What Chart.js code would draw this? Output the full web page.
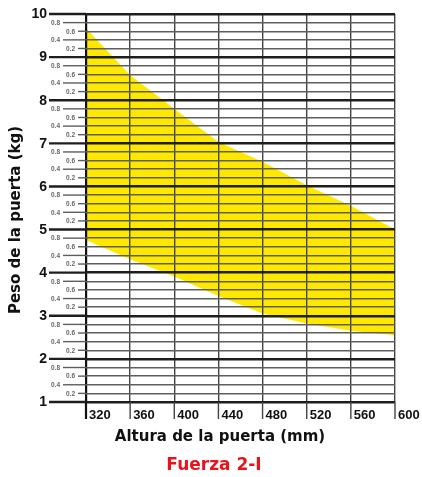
<!DOCTYPE html>
<html><head><meta charset="utf-8">
<script src="https://cdn.jsdelivr.net/npm/chart.js@4/dist/chart.umd.min.js"></script>
<style>html,body{margin:0;padding:0;background:#fff}#wrap{width:422px;height:477px;position:relative}</style>
</head><body><div id="wrap"><canvas id="c"></canvas></div>
<script>
const alturas = [320, 360, 400, 440, 480, 520, 560, 600];
const pesoMax = [9.67, 8.58, 7.8, 7.03, 6.57, 6.03, 5.55, 5.0];
const pesoMin = [4.76, 4.31, 3.91, 3.46, 3.05, 2.82, 2.65, 2.55];
const xTickLabels = ['320', '360', '400', '440', '480', '520', '560', '600'];
const yMajorLabels = ['1', '2', '3', '4', '5', '6', '7', '8', '9', '10'];
const yMinorLabels = ['0.2', '0.4', '0.6', '0.8'];
const xTitle = 'Altura de la puerta (mm)';
const yTitle = 'Peso de la puerta (kg)';
const chartTitle = 'Fuerza 2-I';

const FONT = '"Liberation Sans", Arial, sans-serif';
const TFONT = '"DejaVu Sans", "Liberation Sans", sans-serif';
const isMajor = v => Math.abs(v - Math.round(v)) < 1e-6;
const yGridColor = v => isMajor(v) ? '#1e1e1e' : '#5e5e5e';
const yGridWidth = v => isMajor(v) ? 2.4 : 1.4;
const xGridColor = v => v === 320 ? '#111' : '#444';
const xGridWidth = v => v === 320 ? 2.2 : 1.4;

const decor = {
  id: 'decor',
  afterDraw(chart) {
    const ctx = chart.ctx, ca = chart.chartArea;
    const xs = chart.scales.x, ys = chart.scales.y;
    ctx.save();
    ys.ticks.forEach(t => {
      const v = t.value;
      const y = ys.getPixelForValue(v);
      let start, label, rightX, font, color;
      if (isMajor(v)) {
        start = 49; label = yMajorLabels[Math.round(v) - 1]; rightX = 47;
        font = 'bold 14px ' + FONT; color = '#111';
      } else {
        const f = Math.round((v - Math.floor(v)) * 10);
        label = yMinorLabels[f / 2 - 1];
        if (f === 8 || f === 4) { start = 63; rightX = 60; } else { start = 78; rightX = 75; }
        font = 'bold 6.5px ' + FONT; color = '#666';
      }
      ctx.strokeStyle = yGridColor(v);
      ctx.lineWidth = yGridWidth(v);
      ctx.beginPath(); ctx.moveTo(start, y); ctx.lineTo(ca.left, y); ctx.stroke();
      ctx.fillStyle = color; ctx.font = font; ctx.textAlign = 'right'; ctx.textBaseline = 'middle';
      ctx.fillText(label, rightX, y + 0.5);
    });
    xs.ticks.forEach((t, i) => {
      const v = t.value;
      const x = xs.getPixelForValue(v);
      ctx.strokeStyle = xGridColor(v);
      ctx.lineWidth = xGridWidth(v);
      ctx.beginPath(); ctx.moveTo(x, ca.bottom); ctx.lineTo(x, ca.bottom + 17); ctx.stroke();
      ctx.fillStyle = '#111'; ctx.font = 'bold 13px ' + FONT; ctx.textAlign = 'left'; ctx.textBaseline = 'middle';
      ctx.fillText(xTickLabels[i], x + 3, ca.bottom + 13);
    });
    ctx.fillStyle = '#111'; ctx.textAlign = 'center'; ctx.textBaseline = 'middle';
    ctx.font = 'bold 15px ' + TFONT;
    ctx.fillText(xTitle, 220, 437);
    ctx.save();
    ctx.translate(16, 220); ctx.rotate(-Math.PI / 2);
    ctx.fillText(yTitle, 0, 0);
    ctx.restore();
    ctx.fillStyle = '#E8141B';
    ctx.font = 'bold 17px ' + TFONT;
    ctx.fillText(chartTitle, 214, 466);
    ctx.restore();
  }
};

new Chart(document.getElementById('c'), {
  type: 'line',
  data: {
    datasets: [
      { data: alturas.map((x, i) => ({x, y: pesoMax[i]})), borderWidth: 0, pointRadius: 0,
        backgroundColor: '#FFE800', borderColor: '#FFE800', fill: '+1', tension: 0 },
      { data: alturas.map((x, i) => ({x, y: pesoMin[i]})), borderWidth: 0, pointRadius: 0,
        backgroundColor: '#FFE800', borderColor: '#FFE800', fill: false, tension: 0 }
    ]
  },
  options: {
    responsive: true, maintainAspectRatio: false, animation: false,
    layout: { padding: { left: 86, right: 27, top: 14, bottom: 75 } },
    plugins: { legend: { display: false }, tooltip: { enabled: false }, title: { display: false } },
    scales: {
      x: {
        type: 'linear', min: 320, max: 600,
        ticks: { display: false, stepSize: 40, autoSkip: false },
        border: { display: false },
        grid: { z: 1, drawTicks: false, color: c => xGridColor(c.tick.value), lineWidth: c => xGridWidth(c.tick.value) }
      },
      y: {
        type: 'linear', min: 1, max: 10,
        ticks: { display: false, stepSize: 0.2, autoSkip: false },
        border: { display: false },
        grid: { z: 1, drawTicks: false, color: c => yGridColor(c.tick.value), lineWidth: c => yGridWidth(c.tick.value) }
      }
    }
  },
  plugins: [decor]
});
</script>
</body></html>
